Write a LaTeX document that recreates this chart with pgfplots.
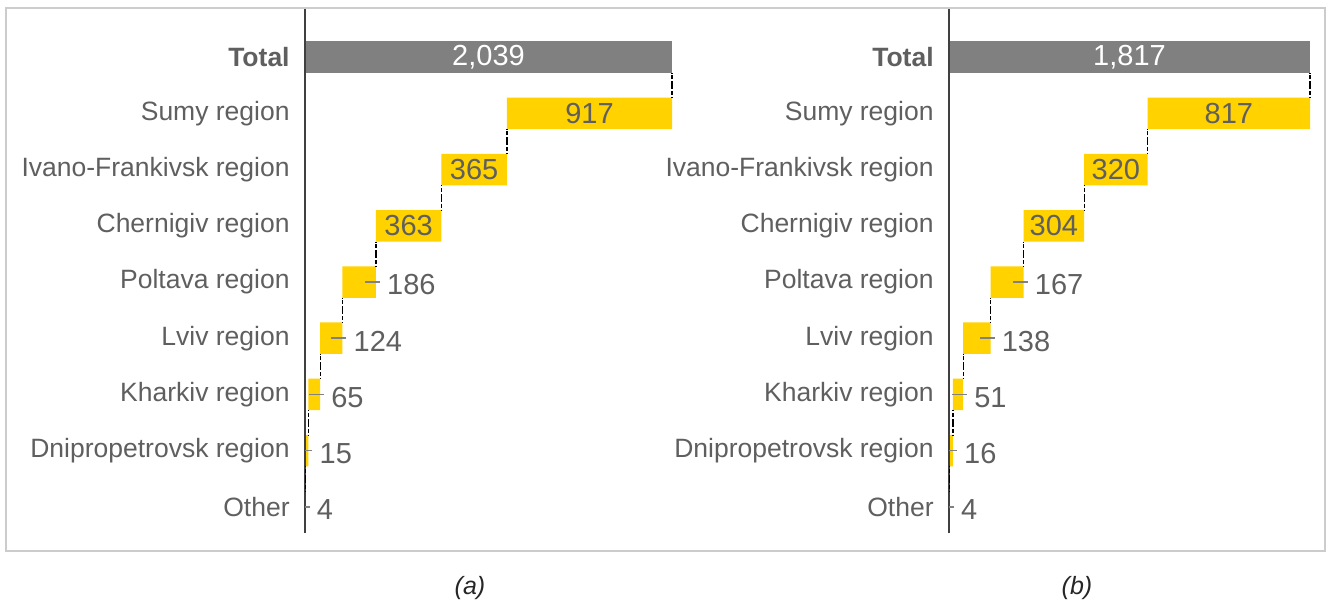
\documentclass[border=0pt]{standalone}
\usepackage{pgfplots}
\pgfplotsset{compat=1.18}
\usepackage{fontspec}
\setmainfont{Liberation Sans}
\definecolor{eyyellow}{HTML}{FFD200}
\definecolor{eygray}{HTML}{808080}
\definecolor{txtgray}{HTML}{5F5F5F}
\definecolor{framegray}{HTML}{CCCCCC}
\pgfplotsset{
  wfbase/.style={scale only axis, height=262.1pt, y dir=reverse, ymin=-0.85, ymax=8.47, xmin=0, clip=false, anchor=south west},
  wfbars/.style={wfbase, xbar stacked, bar width=15.75pt, axis on top,
    axis y line*=left, axis x line=none,
    y axis line style={draw=black!75, line width=1pt},
    ytick={0,...,8},
    yticklabels={\textbf{Total},Sumy region,Ivano-Frankivsk region,Chernigiv region,Poltava region,Lviv region,Kharkiv region,Dnipropetrovsk region,Other},
    major tick length=0pt, ytick style={draw=none},
    yticklabel style={font=\fontsize{13.25}{15}\selectfont, text=txtgray, inner sep=0pt, xshift=-7.5pt},
    xtick=\empty},
  wfover/.style={wfbase, hide axis},
  wfclip/.style={wfbase, hide axis, clip=true, clip marker paths=true},
  conn/.style={only marks, mark=*, mark size=0pt, mark options={draw=none, fill=none}, black,
    error bars/.cd, y dir=both, y explicit, error mark=none,
    error bar style={black, line width=0.6pt, dash pattern=on 2pt off 1pt}},
  lead/.style={only marks, mark=-, mark size=3.75pt, mark options={xshift=-1.75pt, draw=gray, line width=0.75pt},
    nodes near coords, point meta=explicit symbolic,
    every node near coord/.style={anchor=west, inner sep=0pt, xshift=7pt, yshift=-1.5pt, font=\fontsize{14.5}{17}\selectfont, text=txtgray}},
  inlab/.style={only marks, mark=*, mark size=0pt, mark options={draw=none, fill=none},
    nodes near coords, point meta=explicit symbolic,
    every node near coord/.style={anchor=center, inner sep=0pt, font=\fontsize{14.5}{17}\selectfont, text=#1}},
}
\begin{document}
\begin{tikzpicture}
\useasboundingbox (0,0) rectangle (665.5pt,300.5pt);
\draw[framegray, line width=0.75pt] (3pt,25pt) rectangle (662.5pt,296.5pt);
% ---------- panel (a)
\begin{axis}[wfbars, at={(152.5pt,33.8pt)}, width=183.5pt, xmax=2039]
\addplot[draw=none, fill=none] coordinates {(0,0) (1122,1) (757,2) (394,3) (208,4) (84,5) (19,6) (4,7) (0,8)};
\addplot[draw=none, fill=eyyellow] coordinates {(0,0) (917,1) (365,2) (363,3) (186,4) (124,5) (65,6) (15,7) (4,8)};
\addplot[draw=none, fill=eygray] coordinates {(2039,0) (0,1) (0,2) (0,3) (0,4) (0,5) (0,6) (0,7) (0,8)};
\end{axis}
\begin{axis}[wfover, at={(152.5pt,33.8pt)}, width=183.5pt, xmax=2039]
\addplot[conn] coordinates {(2039,0.5) +- (0,0.22) (1122,1.5) +- (0,0.22) (757,2.5) +- (0,0.22) (394,3.5) +- (0,0.22) (208,4.5) +- (0,0.22) (84,5.5) +- (0,0.22) (19,6.5) +- (0,0.22) (4,7.5) +- (0,0.22)};
\addplot[inlab=white] coordinates {(1019.5,0) [2,039]};
\addplot[inlab=txtgray] coordinates {(1580.5,1) [917] (939.5,2) [365] (575.5,3) [363]};
\end{axis}
\begin{axis}[wfclip, at={(152.5pt,33.8pt)}, width=183.5pt, xmax=2039]
\addplot[lead] coordinates {(394,4) [186] (208,5) [124] (84,6) [65] (19,7) [15] (4,8) [4]};
\end{axis}
% ---------- panel (b)
\begin{axis}[wfbars, at={(474.5pt,33.8pt)}, width=180.5pt, xmax=1817]
\addplot[draw=none, fill=none] coordinates {(0,0) (1000,1) (680,2) (376,3) (209,4) (71,5) (20,6) (4,7) (0,8)};
\addplot[draw=none, fill=eyyellow] coordinates {(0,0) (817,1) (320,2) (304,3) (167,4) (138,5) (51,6) (16,7) (4,8)};
\addplot[draw=none, fill=eygray] coordinates {(1817,0) (0,1) (0,2) (0,3) (0,4) (0,5) (0,6) (0,7) (0,8)};
\end{axis}
\begin{axis}[wfover, at={(474.5pt,33.8pt)}, width=180.5pt, xmax=1817]
\addplot[conn] coordinates {(1817,0.5) +- (0,0.22) (1000,1.5) +- (0,0.22) (680,2.5) +- (0,0.22) (376,3.5) +- (0,0.22) (209,4.5) +- (0,0.22) (71,5.5) +- (0,0.22) (20,6.5) +- (0,0.22) (4,7.5) +- (0,0.22)};
\addplot[inlab=white] coordinates {(908.5,0) [1,817]};
\addplot[inlab=txtgray] coordinates {(1408.5,1) [817] (840,2) [320] (528,3) [304]};
\end{axis}
\begin{axis}[wfclip, at={(474.5pt,33.8pt)}, width=180.5pt, xmax=1817]
\addplot[lead] coordinates {(376,4) [167] (209,5) [138] (71,6) [51] (20,7) [16] (4,8) [4]};
\end{axis}
\node[font=\fontsize{12.5}{15}\selectfont\itshape, text=black!85] at (235pt,6.5pt) {(a)};
\node[font=\fontsize{12.5}{15}\selectfont\itshape, text=black!85] at (538.5pt,6.5pt) {(b)};
\end{tikzpicture}
\end{document}
